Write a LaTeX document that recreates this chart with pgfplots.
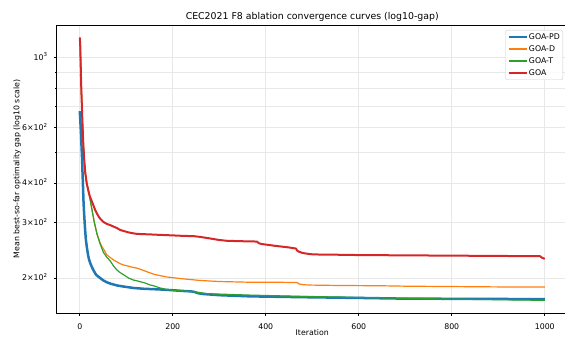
\documentclass[border=0pt]{standalone}
\usepackage{pgfplots}
\pgfplotsset{compat=1.18}
\usepackage{fontspec}
\setmainfont{DejaVu Sans}
\definecolor{cblue}{HTML}{1F77B4}
\definecolor{corange}{HTML}{FF7F0E}
\definecolor{cgreen}{HTML}{2CA02C}
\definecolor{cred}{HTML}{D62728}
\newcommand{\sups}[1]{\raisebox{0.42em}{\fontsize{5.5}{6}\selectfont #1}}
\newcommand{\tl}[1]{#1×10\sups{2}}
\begin{document}
\begin{tikzpicture}
\begin{axis}[
  at={(56.5bp,25bp)}, anchor=south west,
  scale only axis, width=511.5bp, height=288bp,
  ymode=log, xmin=-50, xmax=1050, ymin=155, ymax=1267,
  xtick={0,200,400,600,800,1000},
  xticklabels={0,200,400,600,800,1000},
  ytick={200,300,400,600,1000},
  yticklabels={\tl{2},\tl{3},\tl{4},\tl{6},10\sups{3}},
  minor ytick={500,700,800,900},
  grid=both,
  major grid style={black!9, line width=0.63bp},
  minor grid style={black!9, line width=0.63bp},
  tick align=outside, tick pos=left,
  major tick length=2.75bp, minor tick length=1.57bp,
  tick style={black, line width=0.63bp},
  axis line style={black, line width=0.63bp},
  tick label style={font=\fontsize{7.85}{9}\selectfont},
  xticklabel style={anchor=base, yshift=-13.3bp, inner sep=0pt},
  yticklabel style={anchor=base east, yshift=-2.85bp, xshift=-6.5bp, inner sep=0pt},
  title={CEC2021 F8 ablation convergence curves (log10-gap)},
  every axis title/.style={at={(axis description cs:0.5,1.01736)}, anchor=base, font=\fontsize{9.4}{11}\selectfont, inner sep=0pt},
  xlabel={Iteration},
  xlabel style={at={(axis description cs:0.5,-0.07986)}, anchor=base, font=\fontsize{7.85}{9}\selectfont, inner sep=0pt},
  ylabel={Mean best-so-far optimality gap (log10 scale)},
  ylabel style={at={(axis description cs:-0.0724,0.5)}, anchor=base, font=\fontsize{7.85}{9}\selectfont, inner sep=0pt},
  legend cell align=left,
  legend image code/.code={\draw[#1] (0bp,0bp) -- (18bp,0bp);},
  legend style={at={(axis description cs:1,1)}, anchor=north east, xshift=-5bp, yshift=-5bp,
    draw=black!20, fill=white, fill opacity=0.8, text opacity=1, rounded corners=2bp,
    font=\fontsize{7.85}{9}\selectfont, inner xsep=2bp, inner ysep=2bp, row sep=2.4bp,
    nodes={inner sep=1bp, text height=6bp, text depth=1.6bp}},
  line join=round,
]
% GOA-PD
\addplot[cblue, line width=2.5bp] coordinates {
(0,676) (1,640) (2,600) (3,560) (4,515) (5,478) (6,430) (7,390) (8,352) (9,328) (11,292) (13,266)
(15,252) (18,236) (20,229) (23,222) (26,217) (30,211) (35,205) (40,202) (44,200) (51,196.5)
(58,194) (66,192) (80,189.5) (94,188) (116,186) (137,185) (173,184) (200,183) (223,182)
(238,181.5) (245,181) (255,179) (266,178) (300,176.5) (366,175) (474,174) (496,173.8)
(600,173) (689,172.2) (800,171.9) (1000,171.5)
};
% GOA-D
\addplot[corange, line width=1.2bp] coordinates {
(0,1156) (1,1100) (2,950) (3,830) (4,740) (5,670) (6,610) (7,560) (8,520) (10,465) (12,430)
(15,399) (19,378) (23,350) (27,325) (31,302) (37,276) (44,258) (48,251) (52,246) (58,237)
(66,232) (73,228) (80,225) (87,222) (94,220) (105,218) (116,216) (123,215) (135,212) (144,209.5)
(152,207.5) (160,205.5) (173,203.5) (187,201.5) (195,201) (220,199) (259,196.5) (300,195) (366,194)
(420,194) (467,193.6) (472,191.5) (481,190.5) (496,190) (550,189.5) (653,189) (700,188.5)
(797,188) (900,187.5) (1000,187.3)
};
% GOA-T
\addplot[cgreen, line width=1.2bp] coordinates {
(0,1156) (1,1100) (2,950) (3,830) (4,740) (5,670) (6,610) (7,560) (8,520) (10,465) (12,430)
(15,399) (19,378) (23,350) (27,325) (31,302) (37,276) (44,256) (51,241) (58,233) (66,226)
(73,218) (80,212) (87,208) (94,205) (105,200) (116,197) (123,196) (140,193) (152,190)
(159,189) (173,186) (187,184) (200,183) (223,182) (245,181) (273,178.5) (295,178)
(366,176.6) (474,175) (496,174.8) (617,173.4) (800,171.5) (1000,170)
};
% GOA
\addplot[cred, line width=2.0bp] coordinates {
(0,1156) (1,1100) (2,950) (3,830) (4,740) (5,670) (6,610) (7,560) (8,520) (10,465) (12,430)
(15,399) (19,375) (22,362) (26,350) (30,338) (33,329) (37,320) (42,311) (47,305) (51,301)
(58,297) (66,294) (73,291) (80,288) (87,284) (94,282) (105,279) (116,277) (123,276) (150,275)
(173,274) (200,273) (223,272) (245,271.5) (259,270) (280,267) (300,264) (316,262.5)
(340,261.8) (381,261) (385,258) (390,256.5) (420,253) (450,250) (465,248) (468,244)
(471,242.5) (480,240) (496,238) (510,237.5) (560,237) (600,236.5) (700,236) (800,235.5)
(900,235) (990,234.5) (994,232) (1000,230)
};
\legend{GOA-PD,GOA-D,GOA-T,GOA}
\end{axis}
\pgfresetboundingbox
\useasboundingbox (0,0) rectangle (565bp,338bp);
\end{tikzpicture}
\end{document}
